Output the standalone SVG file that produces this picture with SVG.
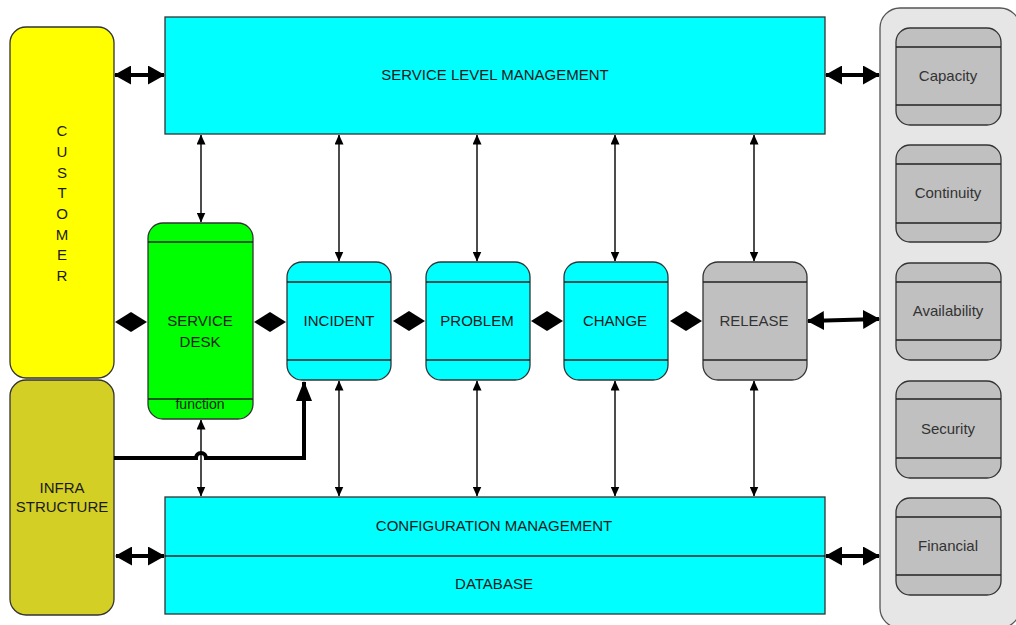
<svg xmlns="http://www.w3.org/2000/svg" width="1016" height="625" viewBox="0 0 1016 625">
<style>
  .lbl{font-family:"Liberation Sans",Arial,sans-serif;font-size:15px;fill:#1a1a1a;text-anchor:middle;dominant-baseline:central}
  .sm{font-size:15px;fill:#333}
  .box{stroke:#333;stroke-width:1.3}
  .div{stroke:#222;stroke-width:1.3;fill:none}
  .thin{stroke:#111;stroke-width:1.5;fill:none}
  .thick{stroke:#000;stroke-width:4;fill:none}
  .dia{fill:#000}
</style>
<defs>
  <marker id="big" markerUnits="userSpaceOnUse" viewBox="0 0 17 19" markerWidth="17" markerHeight="19" refX="16" refY="9.5" orient="auto-start-reverse">
    <path d="M0,0 L17,9.5 L0,19 z" fill="#000"/>
  </marker>
  <marker id="sm" markerUnits="userSpaceOnUse" viewBox="0 0 10 9" markerWidth="10" markerHeight="9" refX="9.5" refY="4.5" orient="auto-start-reverse">
    <path d="M0,0 L10,4.5 L0,9 z" fill="#000"/>
  </marker>
  <marker id="infra" markerUnits="userSpaceOnUse" viewBox="0 0 20 16" markerWidth="20" markerHeight="16" refX="19" refY="8" orient="auto">
    <path d="M0,0 L20,8 L0,16 z" fill="#000"/>
  </marker>
</defs>
<rect width="1016" height="625" fill="#fff"/>

<g id="customer">
  <rect class="box" x="10" y="27" width="104" height="351" rx="16" fill="#ffff00"/>
  <g class="lbl" style="font-size:15px">
    <text x="62" y="130">C</text><text x="62" y="151">U</text><text x="62" y="172">S</text><text x="62" y="192">T</text>
    <text x="62" y="213">O</text><text x="62" y="234">M</text><text x="62" y="254">E</text><text x="62" y="275">R</text>
  </g>
</g>
<g id="infrastructure">
  <rect class="box" x="10" y="380" width="104" height="235" rx="16" fill="#d3cf25"/>
  <text class="lbl" x="62" y="487">INFRA</text>
  <text class="lbl" x="62" y="506">STRUCTURE</text>
</g>
<g id="slm">
  <rect class="box" x="165" y="17" width="660" height="117" fill="#00ffff"/>
  <text class="lbl" x="495" y="74">SERVICE LEVEL MANAGEMENT</text>
</g>
<g id="cmdb">
  <rect class="box" x="165" y="497" width="660" height="117" fill="#00ffff"/>
  <line class="div" x1="165" y1="556" x2="825" y2="556"/>
  <text class="lbl" x="494" y="525">CONFIGURATION MANAGEMENT</text>
  <text class="lbl" x="494" y="583">DATABASE</text>
</g>
<g id="servicedesk">
  <rect class="box" x="148" y="223" width="105" height="196" rx="15" fill="#00ff00"/>
  <line class="div" x1="148" y1="242" x2="253" y2="242"/>
  <line class="div" x1="148" y1="399" x2="253" y2="399"/>
  <text class="lbl" x="200" y="320">SERVICE</text>
  <text class="lbl" x="200" y="341">DESK</text>
  <text class="lbl" x="200" y="404" style="font-size:14px">function</text>
</g>
<g id="incident">
  <rect class="box" x="287" y="262" width="104" height="118" rx="15" fill="#00ffff"/>
  <line class="div" x1="287" y1="282" x2="391" y2="282"/>
  <line class="div" x1="287" y1="360" x2="391" y2="360"/>
  <text class="lbl" x="339" y="320">INCIDENT</text>
</g>
<g id="problem">
  <rect class="box" x="426" y="262" width="104" height="118" rx="15" fill="#00ffff"/>
  <line class="div" x1="426" y1="282" x2="530" y2="282"/>
  <line class="div" x1="426" y1="360" x2="530" y2="360"/>
  <text class="lbl" x="477" y="320">PROBLEM</text>
</g>
<g id="change">
  <rect class="box" x="564" y="262" width="104" height="118" rx="15" fill="#00ffff"/>
  <line class="div" x1="564" y1="282" x2="668" y2="282"/>
  <line class="div" x1="564" y1="360" x2="668" y2="360"/>
  <text class="lbl" x="615" y="320">CHANGE</text>
</g>
<g id="release">
  <rect class="box" x="703" y="262" width="104" height="118" rx="15" fill="#c0c0c0"/>
  <line class="div" x1="703" y1="282" x2="807" y2="282"/>
  <line class="div" x1="703" y1="360" x2="807" y2="360"/>
  <text class="lbl" x="754" y="320" style="fill:#333">RELEASE</text>
</g>
<g id="processes">
  <rect x="880" y="8" width="140" height="620" rx="20" fill="#e6e6e6" stroke="#555" stroke-width="1.3"/>
</g>
<g id="capacity">
  <rect class="box" x="896" y="28" width="105" height="97" rx="14" fill="#c0c0c0"/>
  <line class="div" x1="896" y1="47" x2="1001" y2="47"/><line class="div" x1="896" y1="105" x2="1001" y2="105"/>
  <text class="lbl sm" x="948" y="75">Capacity</text>
</g>
<g id="continuity">
  <rect class="box" x="896" y="145" width="105" height="97" rx="14" fill="#c0c0c0"/>
  <line class="div" x1="896" y1="164" x2="1001" y2="164"/><line class="div" x1="896" y1="223" x2="1001" y2="223"/>
  <text class="lbl sm" x="948" y="192">Continuity</text>
</g>
<g id="availability">
  <rect class="box" x="896" y="263" width="105" height="97" rx="14" fill="#c0c0c0"/>
  <line class="div" x1="896" y1="282" x2="1001" y2="282"/><line class="div" x1="896" y1="340" x2="1001" y2="340"/>
  <text class="lbl sm" x="948" y="310">Availability</text>
</g>
<g id="security">
  <rect class="box" x="896" y="381" width="105" height="97" rx="14" fill="#c0c0c0"/>
  <line class="div" x1="896" y1="399" x2="1001" y2="399"/><line class="div" x1="896" y1="458" x2="1001" y2="458"/>
  <text class="lbl sm" x="948" y="428">Security</text>
</g>
<g id="financial">
  <rect class="box" x="896" y="498" width="105" height="97" rx="14" fill="#c0c0c0"/>
  <line class="div" x1="896" y1="517" x2="1001" y2="517"/><line class="div" x1="896" y1="575" x2="1001" y2="575"/>
  <text class="lbl sm" x="948" y="545">Financial</text>
</g>

<g id="connectors">
  <line class="thick" x1="115" y1="75" x2="164" y2="75" marker-start="url(#big)" marker-end="url(#big)"/>
  <line class="thick" x1="826" y1="75" x2="879" y2="75" marker-start="url(#big)" marker-end="url(#big)"/>
  <line class="thick" x1="116" y1="556" x2="164" y2="556" marker-start="url(#big)" marker-end="url(#big)"/>
  <line class="thick" x1="826" y1="556" x2="879" y2="556" marker-start="url(#big)" marker-end="url(#big)"/>
  <line class="thick" x1="808" y1="321" x2="879" y2="319" marker-start="url(#big)" marker-end="url(#big)"/>

  <line class="thin" x1="201" y1="135" x2="201" y2="222" marker-start="url(#sm)" marker-end="url(#sm)"/>
  <line class="thin" x1="339" y1="135" x2="339" y2="261" marker-start="url(#sm)" marker-end="url(#sm)"/>
  <line class="thin" x1="477" y1="135" x2="477" y2="261" marker-start="url(#sm)" marker-end="url(#sm)"/>
  <line class="thin" x1="615" y1="135" x2="615" y2="261" marker-start="url(#sm)" marker-end="url(#sm)"/>
  <line class="thin" x1="754" y1="135" x2="754" y2="261" marker-start="url(#sm)" marker-end="url(#sm)"/>

  <line class="thin" x1="201" y1="420" x2="201" y2="496" marker-start="url(#sm)" marker-end="url(#sm)"/>
  <line class="thin" x1="339" y1="381" x2="339" y2="496" marker-start="url(#sm)" marker-end="url(#sm)"/>
  <line class="thin" x1="477" y1="381" x2="477" y2="496" marker-start="url(#sm)" marker-end="url(#sm)"/>
  <line class="thin" x1="615" y1="381" x2="615" y2="496" marker-start="url(#sm)" marker-end="url(#sm)"/>
  <line class="thin" x1="754" y1="381" x2="754" y2="496" marker-start="url(#sm)" marker-end="url(#sm)"/>

  <path class="thick" d="M114,458 L196,458 A5,5 0 0 1 206,458 L304,458 L304,382" marker-end="url(#infra)"/>

  <path class="dia" d="M115,322 L131,312 L147,322 L131,332 z"/>
  <path class="dia" d="M254,322 L270,312 L286,322 L270,332 z"/>
  <path class="dia" d="M393,321 L409,311 L425,321 L409,331 z"/>
  <path class="dia" d="M531,321 L547,311 L563,321 L547,331 z"/>
  <path class="dia" d="M670,321 L686,311 L702,321 L686,331 z"/>
</g>
</svg>
